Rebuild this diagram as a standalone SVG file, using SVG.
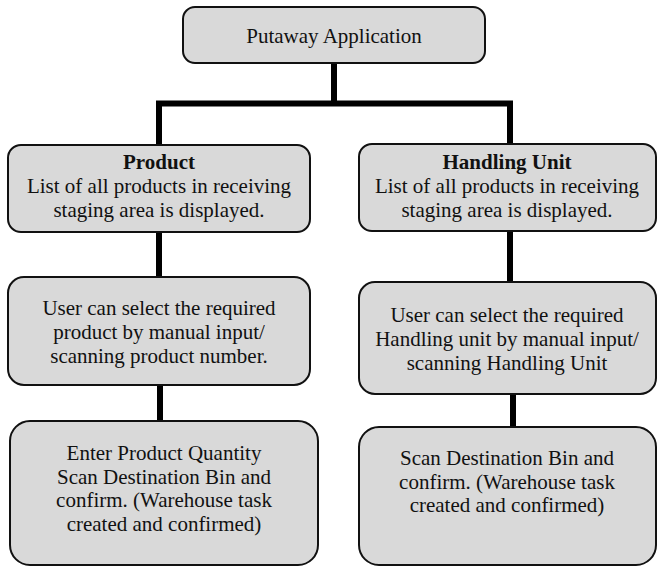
<svg xmlns="http://www.w3.org/2000/svg" width="657" height="567" viewBox="0 0 657 567">
<style>
.box{fill:#d9d9d9;stroke:#111;stroke-width:2}
.t{font-family:'Liberation Serif','Times New Roman',Times,'DejaVu Serif',serif;font-size:21px;fill:#111;text-anchor:middle}
.b{font-weight:bold}
.c{stroke:#000;stroke-width:6;fill:none}
</style>
<rect width="657" height="567" fill="#fff"/>
<g id="connectors">
<path class="c" d="M334 63V103.5"/>
<path class="c" d="M156 103.5H513"/>
<path class="c" d="M159 103.5V145"/>
<path class="c" d="M510 103.5V144"/>
<path class="c" d="M159 232V277"/>
<path class="c" d="M510 231V282"/>
<path class="c" d="M160 385V421"/>
<path class="c" d="M513 394V427"/>
</g>
<g id="root">
<rect class="box" x="183" y="7" width="302" height="56" rx="12"/>
<text class="t" font-family="Liberation Serif, serif" x="334" y="43">Putaway Application</text>
</g>
<g id="product">
<rect class="box" x="8" y="145" width="302" height="87" rx="13"/>
<text class="t" x="159" y="169"><tspan class="b">Product</tspan><tspan x="159" dy="24">List of all products in receiving</tspan><tspan x="159" dy="24">staging area is displayed.</tspan></text>
</g>
<g id="hu">
<rect class="box" x="359" y="144" width="297" height="87" rx="13"/>
<text class="t" x="507" y="169"><tspan class="b">Handling Unit</tspan><tspan x="507" dy="24">List of all products in receiving</tspan><tspan x="507" dy="24">staging area is displayed.</tspan></text>
</g>
<g id="product-select">
<rect class="box" x="8" y="277" width="302" height="108" rx="16"/>
<text class="t" x="159" y="315">User can select the required<tspan x="159" dy="24">product by manual input/</tspan><tspan x="159" dy="24">scanning product number.</tspan></text>
</g>
<g id="hu-select">
<rect class="box" x="359" y="282" width="297" height="112" rx="16"/>
<text class="t" x="507" y="322">User can select the required<tspan x="507" dy="24">Handling unit by manual input/</tspan><tspan x="507" dy="24">scanning Handling Unit</tspan></text>
</g>
<g id="product-confirm">
<rect class="box" x="10" y="421" width="308" height="144" rx="20"/>
<text class="t" x="164" y="460">Enter Product Quantity<tspan x="164" dy="23.5">Scan Destination Bin and</tspan><tspan x="164" dy="23.5">confirm. (Warehouse task</tspan><tspan x="164" dy="23.5">created and confirmed)</tspan></text>
</g>
<g id="hu-confirm">
<rect class="box" x="359" y="427" width="297" height="138" rx="20"/>
<text class="t" x="507" y="465">Scan Destination Bin and<tspan x="507" dy="23.5">confirm. (Warehouse task</tspan><tspan x="507" dy="23.5">created and confirmed)</tspan></text>
</g>
</svg>
